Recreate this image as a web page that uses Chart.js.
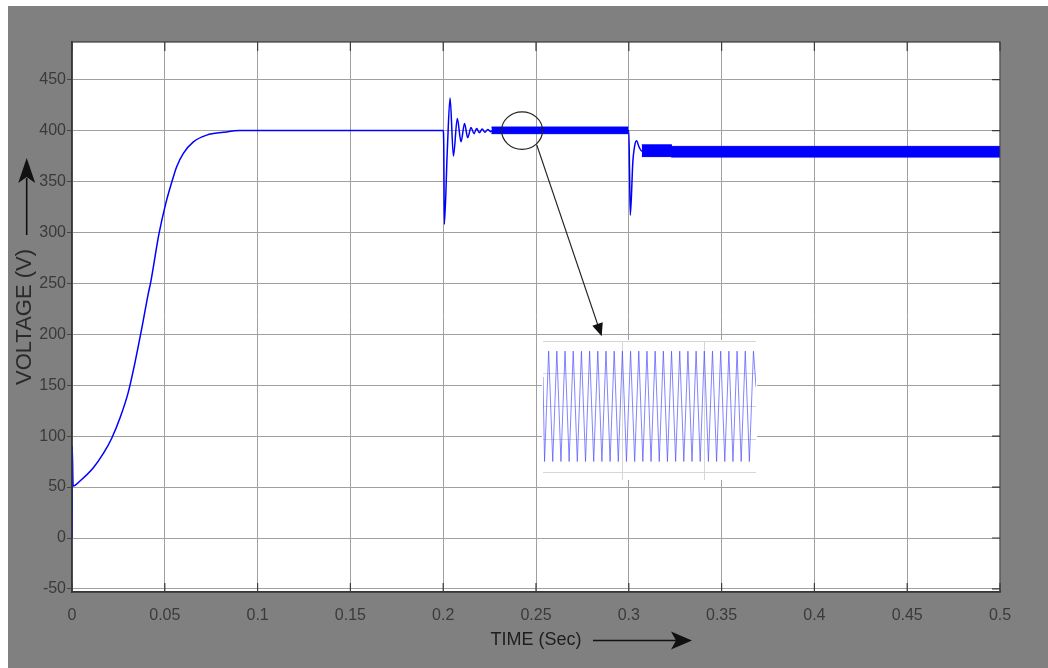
<!DOCTYPE html>
<html>
<head>
<meta charset="utf-8">
<script src="https://cdn.jsdelivr.net/npm/chart.js@4.4.1/dist/chart.umd.min.js"></script>
<style>
  html, body { margin: 0; padding: 0; background: #fff; }
  #wrap { position: relative; width: 1048px; height: 668px; }
  #inset { position: absolute; left: 542px; top: 340px; width: 215px; height: 140px; }
</style>
</head>
<body>
<div id="wrap">
  <canvas id="chart"></canvas>
  <div id="inset"><canvas id="zoom"></canvas></div>
</div>
<script>
// scope trace: time (s) and voltage (V)
const timeS = [0, 0.0001, 0.0006, 0.0043, 0.0115, 0.0169, 0.0214, 0.0259, 0.0303, 0.0339,
  0.0375, 0.0411, 0.0424, 0.0469, 0.0506, 0.0537, 0.0564, 0.06, 0.0654, 0.0726, 0.0815, 0.0905,
  0.2, 0.2003, 0.2006, 0.2022, 0.2037, 0.2055, 0.2076, 0.2096, 0.2115, 0.2132,
  0.215, 0.2166, 0.218, 0.2195, 0.221, 0.2225, 0.224, 0.2255, 0.227, 0.3,
  0.3004, 0.3008, 0.3022, 0.3035, 0.3042, 0.3055, 0.307, 0.5];
const voltV = [0, 90, 51, 56, 69, 83, 98, 118, 143, 172,
  205, 240, 251, 299, 329, 349, 364.6, 377.7, 389, 395.6, 398.3, 400,
  400, 385, 308, 380, 432, 375, 412, 389, 407, 393,
  403, 397, 402, 398, 401.5, 398.5, 401, 399, 400.5, 400,
  360, 317, 370, 388, 390, 384, 380, 380];

// ripple bands (thick parts of the trace)
const band1T = [0.226, 0.2998];
const band1Hi = [403.5, 403.5];
const band1Lo = [397, 397];
const band2T = [0.307, 0.323, 0.323, 0.5];
const band2Hi = [386, 386, 384.5, 384.5];
const band2Lo = [374.5, 374.5, 374, 374];

const xTicks = [0, 0.05, 0.1, 0.15, 0.2, 0.25, 0.3, 0.35, 0.4, 0.45, 0.5];
const xTickLabels = ['0', '0.05', '0.1', '0.15', '0.2', '0.25', '0.3', '0.35', '0.4', '0.45', '0.5'];
const yTicks = [-50, 0, 50, 100, 150, 200, 250, 300, 350, 400, 450];

// zoomed ripple shown in the inset
const insetX = [0, 0.19, 0.69, 1.19, 1.69, 2.19, 2.69, 3.19, 3.69, 4.19, 4.69, 5.19, 5.69,
  6.19, 6.69, 7.19, 7.69, 8.19, 8.69, 9.19, 9.69, 10.19, 10.69, 11.19, 11.69, 12.19, 12.69,
  13.19, 13.69, 14.19, 14.69, 15.19, 15.69, 16.19, 16.69, 17.19, 17.69, 18.19, 18.69,
  19.19, 19.69, 20.19, 20.69, 21.19, 21.69, 22.19, 22.69, 23.19, 23.69, 24.19, 24.69,
  25.19, 25.69, 26];
const insetY = [0.9, -1.68, 1.69, -1.68, 1.69, -1.68, 1.69, -1.68, 1.69, -1.68, 1.69, -1.68, 1.69,
  -1.68, 1.69, -1.68, 1.69, -1.68, 1.69, -1.68, 1.69, -1.68, 1.69, -1.68, 1.69, -1.68, 1.69,
  -1.68, 1.69, -1.68, 1.69, -1.68, 1.69, -1.68, 1.69, -1.68, 1.69, -1.68, 1.69,
  -1.68, 1.69, -1.68, 1.69, -1.68, 1.69, -1.68, 1.69, -1.68, 1.69, -1.68, 1.69,
  -1.68, 1.69, 0.6];
const insetGridX = [9.75, 19.7];
const insetGridY = [-2, -1, 0, 1, 2];

// annotation anchors (data coords)
const zoomMark = { t: 0.2425, v: 400 };
const pointerFrom = { t: 0.2504, v: 386 };
const pointerTo = { t: 0.2854, v: 198 };

const FONT = 'Liberation Sans, Arial, sans-serif';
const pts = (xs, ys) => xs.map((x, i) => ({ x: x, y: ys[i] }));

function arrowHead(ctx, tx, ty, ux, uy, len, half, notch) {
  const bx = tx - ux * len, by = ty - uy * len;
  ctx.beginPath();
  ctx.moveTo(tx, ty);
  ctx.lineTo(bx - uy * half, by + ux * half);
  ctx.lineTo(tx - ux * (len - notch), ty - uy * (len - notch));
  ctx.lineTo(bx + uy * half, by - ux * half);
  ctx.closePath();
  ctx.fill();
}

const scopeFrame = {
  id: 'scopeFrame',
  beforeDraw(chart) {
    const { ctx, chartArea: a } = chart;
    ctx.save();
    ctx.fillStyle = '#ffffff';
    ctx.fillRect(0, 0, chart.width, chart.height);
    ctx.fillStyle = '#808080';
    ctx.fillRect(8, 6, chart.width - 8, chart.height - 6);
    ctx.fillStyle = '#ffffff';
    ctx.fillRect(a.left, a.top, a.right - a.left, a.bottom - a.top);
    ctx.restore();
  },
  afterDraw(chart) {
    const { ctx, chartArea: a, scales: { x, y } } = chart;
    ctx.save();
    // box + inner tick marks
    ctx.strokeStyle = '#3a3a3a';
    ctx.lineWidth = 1.2;
    ctx.strokeRect(a.left, a.top, a.right - a.left, a.bottom - a.top);
    ctx.beginPath();
    xTicks.forEach(v => {
      const px = x.getPixelForValue(v);
      ctx.moveTo(px, a.bottom); ctx.lineTo(px, a.bottom - 9);
      ctx.moveTo(px, a.top); ctx.lineTo(px, a.top + 9);
    });
    yTicks.forEach(v => {
      const py = y.getPixelForValue(v);
      ctx.moveTo(a.right, py); ctx.lineTo(a.right - 8, py);
    });
    ctx.stroke();

    // zoom circle and pointer
    ctx.strokeStyle = '#222';
    ctx.lineWidth = 1.2;
    ctx.beginPath();
    ctx.ellipse(x.getPixelForValue(zoomMark.t), y.getPixelForValue(zoomMark.v), 20.5, 18.7, 0, 0, Math.PI * 2);
    ctx.stroke();
    const fx = x.getPixelForValue(pointerFrom.t), fy = y.getPixelForValue(pointerFrom.v);
    const tx = x.getPixelForValue(pointerTo.t), ty = y.getPixelForValue(pointerTo.v);
    const len = Math.hypot(tx - fx, ty - fy), ux = (tx - fx) / len, uy = (ty - fy) / len;
    ctx.beginPath();
    ctx.moveTo(fx, fy);
    ctx.lineTo(tx - ux * 10, ty - uy * 10);
    ctx.stroke();
    ctx.fillStyle = '#111';
    arrowHead(ctx, tx, ty, ux, uy, 13, 5.5, 0);

    // axis title arrows
    ctx.strokeStyle = '#111';
    ctx.lineWidth = 1.6;
    ctx.beginPath();
    ctx.moveTo(26.7, 235); ctx.lineTo(26.7, 178);
    ctx.moveTo(593, 640.5); ctx.lineTo(680, 640.5);
    ctx.stroke();
    arrowHead(ctx, 26.7, 158, 0, -1, 25, 8.5, 6);
    arrowHead(ctx, 692, 640.5, 1, 0, 21, 9, 5);
    ctx.restore();
  }
};

new Chart(document.getElementById('chart'), {
  type: 'line',
  data: {
    datasets: [
      { data: pts(timeS, voltV), borderColor: '#0000ff', borderWidth: 1.5, pointRadius: 0,
        cubicInterpolationMode: 'monotone', fill: false },
      { data: pts(band1T, band1Hi), borderColor: '#0000ff', borderWidth: 1, pointRadius: 0, fill: false },
      { data: pts(band1T, band1Lo), borderColor: '#0000ff', borderWidth: 1, pointRadius: 0,
        fill: '-1', backgroundColor: '#0000ff' },
      { data: pts(band2T, band2Hi), borderColor: '#0000ff', borderWidth: 1, pointRadius: 0, fill: false },
      { data: pts(band2T, band2Lo), borderColor: '#0000ff', borderWidth: 1, pointRadius: 0,
        fill: '-1', backgroundColor: '#0000ff' }
    ]
  },
  options: {
    responsive: true,
    maintainAspectRatio: false,
    animation: false,
    layout: { padding: { left: 0, top: 42, right: 48, bottom: 0 } },
    scales: {
      x: {
        type: 'linear', min: 0, max: 0.5,
        afterBuildTicks: s => { s.ticks = xTicks.map(v => ({ value: v })); },
        afterFit: s => { s.height = 76; },
        grid: { color: '#a0a0a0', lineWidth: 1, drawTicks: false },
        border: { color: '#333', width: 1.5 },
        ticks: { color: '#3a3a3a', padding: 14, font: { family: FONT, size: 16 },
          callback: (v, i) => xTickLabels[i] },
        title: { display: true, text: 'TIME (Sec)', color: '#1e1e1e',
          font: { family: FONT, size: 18 }, padding: { top: 0, bottom: 17 } }
      },
      y: {
        min: -53, max: 487,
        afterBuildTicks: s => { s.ticks = yTicks.map(v => ({ value: v })); },
        afterFit: s => { s.width = 72; },
        grid: { color: '#a0a0a0', lineWidth: 1, drawTicks: true, tickLength: 5, tickColor: '#444' },
        border: { color: '#333', width: 1.5 },
        ticks: { color: '#3a3a3a', padding: 1, font: { family: FONT, size: 16 },
          callback: v => String(v) },
        title: { display: true, text: 'VOLTAGE (V)', color: '#2a2a2a',
          font: { family: FONT, size: 22 }, padding: { top: 12, bottom: 0 } }
      }
    },
    plugins: { legend: { display: false }, tooltip: { enabled: false } }
  },
  plugins: [scopeFrame]
});

new Chart(document.getElementById('zoom'), {
  type: 'line',
  data: {
    datasets: [{ data: pts(insetX, insetY), borderColor: 'rgba(80,80,255,0.7)', borderWidth: 1,
      pointRadius: 0, tension: 0, fill: false }]
  },
  options: {
    responsive: true,
    maintainAspectRatio: false,
    animation: false,
    layout: { padding: { left: 1, top: 1, right: 1, bottom: 0 } },
    scales: {
      x: {
        type: 'linear', min: 0, max: 26,
        afterBuildTicks: s => { s.ticks = insetGridX.map(v => ({ value: v })); },
        grid: { color: '#d6d6d6', drawTicks: true, tickLength: 8, tickColor: '#d6d6d6' },
        border: { display: false },
        ticks: { display: false }
      },
      y: {
        min: -2, max: 2,
        afterBuildTicks: s => { s.ticks = insetGridY.map(v => ({ value: v })); },
        grid: { color: '#d6d6d6', drawTicks: false },
        border: { display: false },
        ticks: { display: false }
      }
    },
    plugins: { legend: { display: false }, tooltip: { enabled: false } }
  },
  plugins: [{
    id: 'whiteBg',
    beforeDraw(c) { c.ctx.save(); c.ctx.fillStyle = '#fff'; c.ctx.fillRect(0, 0, c.width, c.height); c.ctx.restore(); }
  }]
});
</script>
</body>
</html>
